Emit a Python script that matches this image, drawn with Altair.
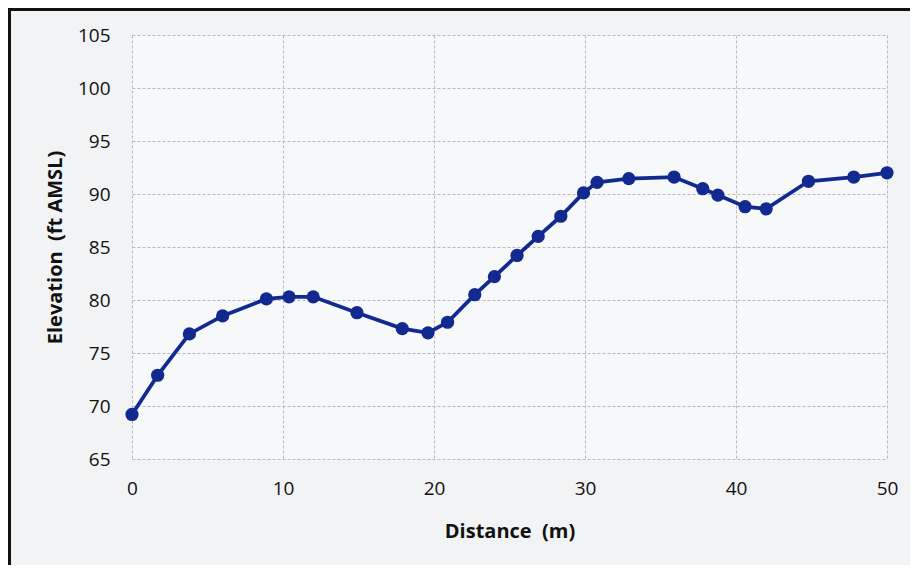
import altair as alt
import pandas as pd

distance = [0, 1.7, 3.8, 6.0, 8.9, 10.4, 12.0, 14.9, 17.9, 19.6, 20.9, 22.7, 24.0, 25.5,
            26.9, 28.4, 29.9, 30.8, 32.9, 35.9, 37.8, 38.8, 40.6, 42.0, 44.8, 47.8, 50.0]
elevation = [69.2, 72.9, 76.8, 78.5, 80.1, 80.3, 80.3, 78.8, 77.3, 76.9, 77.9, 80.5, 82.2, 84.2,
             86.0, 87.9, 90.1, 91.1, 91.45, 91.6, 90.5, 89.9, 88.8, 88.6, 91.2, 91.6, 92.0]

x_ticks = [0, 10, 20, 30, 40, 50]
y_ticks = [65, 70, 75, 80, 85, 90, 95, 100, 105]

df = pd.DataFrame({"d": distance, "e": elevation})

FONT = "Open Sans"
BLUE = "#12298f"

base = alt.Chart(df)

line = base.mark_line(color=BLUE, strokeWidth=3.8).encode(
    x=alt.X("d:Q", scale=alt.Scale(domain=[0, 50], nice=False),
            axis=alt.Axis(values=x_ticks, title="Distance\u00a0 (m)", labelPadding=20,
                          titlePadding=23, labelFlush=False, labelOverlap=False)),
    y=alt.Y("e:Q", scale=alt.Scale(domain=[65, 105], nice=False, zero=False),
            axis=alt.Axis(values=y_ticks, title="Elevation\u00a0 (ft AMSL)", labelPadding=22,
                          titlePadding=12, labelFlush=False, labelOverlap=False)),
)
pts = base.mark_circle(color=BLUE, size=175, opacity=1).encode(x="d:Q", y="e:Q")

frame_left = alt.Chart(df).mark_rule(color="#111111", strokeWidth=2.5).encode(
    x=alt.value(-122.5), y=alt.value(-30), y2=alt.value(570))
frame_top = alt.Chart(df).mark_rule(color="#111111", strokeWidth=2.5).encode(
    x=alt.value(-125), x2=alt.value(800), y=alt.value(-26))

chart = alt.layer(line, pts, frame_left, frame_top).properties(
    width=755, height=424,
    background="#f1f3f5",
    padding={"left": 124, "top": 27, "right": 23, "bottom": 106},
    autosize=alt.AutoSizeParams(type="none"),
).configure_view(fill="#f6f8fa", stroke=None).configure_axis(
    grid=True, gridColor="#b9b9b9", gridDash=[3, 2], gridWidth=1,
    domain=False, ticks=False,
    labelFont=FONT, labelFontSize=19, labelColor="#111111",
    titleFont=FONT, titleFontSize=20, titleFontWeight="bold", titleColor="#111111",
)

chart.save("out.html", embed_options={"renderer": "svg", "actions": False})
